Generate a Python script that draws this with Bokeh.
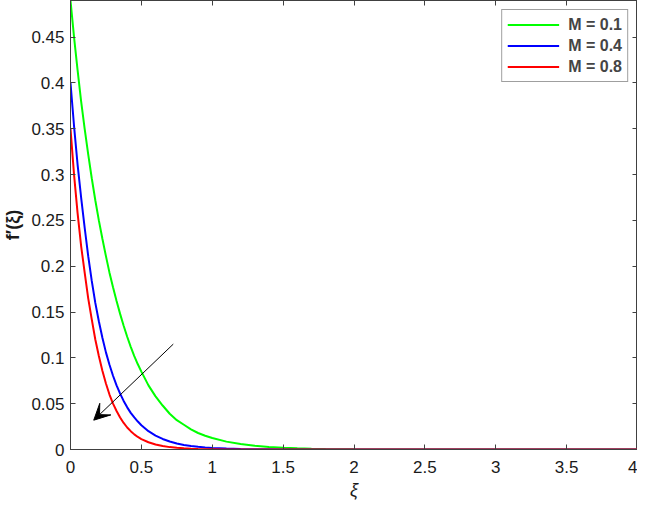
from bokeh.plotting import figure
from bokeh.models import (ColumnDataSource, LinearAxis, FixedTicker, Range1d,
                          Arrow, VeeHead, Legend, LegendItem)
from bokeh.embed import file_html
from bokeh.resources import INLINE

# ---- data ----
xi = [0.0, 0.025, 0.05, 0.075, 0.1, 0.125, 0.15, 0.175, 0.2, 0.225, 0.25, 0.275, 0.3,
      0.325, 0.35, 0.375, 0.4, 0.425, 0.45, 0.475, 0.5,
      0.55, 0.6, 0.65, 0.7, 0.75, 0.8, 0.85, 0.9, 0.95, 1.0,
      1.1, 1.2, 1.3, 1.4, 1.5, 1.6, 1.7, 1.8, 1.9, 2.0,
      2.5, 3.0, 3.5, 4.0]
f_M01 = [0.490, 0.450, 0.414, 0.380, 0.350, 0.322, 0.296, 0.272, 0.250, 0.230, 0.211,
         0.193, 0.177, 0.162, 0.148, 0.135, 0.123, 0.112, 0.102, 0.093, 0.085,
         0.070, 0.058, 0.048, 0.039, 0.032, 0.027, 0.022, 0.018, 0.015, 0.0125,
         0.0086, 0.0060, 0.0041, 0.0028, 0.0019, 0.0013, 0.0009, 0.0006, 0.0004, 0.0003,
         0.00005, 0.0, 0.0, 0.0]
f_M04 = [0.400, 0.353, 0.311, 0.275, 0.242, 0.211, 0.184, 0.160, 0.140, 0.122, 0.106,
         0.0925, 0.0805, 0.070, 0.061, 0.053, 0.046, 0.040, 0.035, 0.0305, 0.0265,
         0.020, 0.0152, 0.0115, 0.0087, 0.0066, 0.0050, 0.0038, 0.0029, 0.0022, 0.0017,
         0.0010, 0.0006, 0.0003, 0.0002, 0.0001, 0.0, 0.0, 0.0, 0.0, 0.0,
         0.0, 0.0, 0.0, 0.0]
f_M08 = [0.350, 0.300, 0.258, 0.222, 0.193, 0.165, 0.142, 0.120, 0.102, 0.086, 0.072,
         0.060, 0.050, 0.042, 0.035, 0.029, 0.024, 0.020, 0.0165, 0.0137, 0.0114,
         0.0079, 0.0055, 0.0038, 0.0026, 0.0018, 0.0013, 0.0009, 0.0006, 0.0004, 0.0003,
         0.0001, 0.0, 0.0, 0.0, 0.0, 0.0, 0.0, 0.0, 0.0, 0.0,
         0.0, 0.0, 0.0, 0.0]
series_labels = ["M = 0.1", "M = 0.4", "M = 0.8"]
series_colors = ["#00ff00", "#0000ff", "#ff0000"]

x_ticks = [0, 0.5, 1, 1.5, 2, 2.5, 3, 3.5, 4]
x_tick_labels = ["0", "0.5", "1", "1.5", "2", "2.5", "3", "3.5", "4"]
y_ticks = [0, 0.05, 0.1, 0.15, 0.2, 0.25, 0.3, 0.35, 0.4, 0.45]
y_tick_labels = ["0", "0.05", "0.1", "0.15", "0.2", "0.25", "0.3", "0.35", "0.4", "0.45"]

# arrow annotation (tail -> tip), data coordinates
arrow_tail = (0.725, 0.115)
arrow_tip = (0.164, 0.032)

FONT = "Liberation Sans"
AX = "#404040"
TXT = "#1a1a1a"

p = figure(width=637, height=502, output_backend="svg",
           toolbar_location=None, x_range=Range1d(0, 4), y_range=Range1d(0, 0.49),
           min_border_left=10, min_border_right=0, min_border_top=0, min_border_bottom=10)
p.xgrid.visible = False
p.ygrid.visible = False
p.background_fill_color = "white"
p.outline_line_color = AX
p.outline_line_width = 1

src = ColumnDataSource(dict(x=xi, a=f_M01, b=f_M04, c=f_M08))
renderers = []
for col, color in zip(["a", "b", "c"], series_colors):
    r = p.line("x", col, source=src, line_color=color, line_width=2)
    renderers.append(r)

def style_axis(ax, ticks, labels, show_labels=True):
    ax.ticker = FixedTicker(ticks=ticks)
    ax.major_label_overrides = {t: (l if show_labels else "") for t, l in zip(ticks, labels)}
    ax.major_tick_in = 5
    ax.major_tick_out = 0
    ax.minor_tick_in = 0
    ax.minor_tick_out = 0
    ax.axis_line_color = AX
    ax.major_tick_line_color = AX
    ax.major_label_text_font = FONT
    ax.major_label_text_font_size = "17px"
    ax.major_label_text_color = TXT

xa = p.xaxis[0]
ya = p.yaxis[0]
style_axis(xa, x_ticks, x_tick_labels)
style_axis(ya, y_ticks, y_tick_labels)
xa.major_label_standoff = 11
ya.major_label_standoff = 6
xa.axis_label = "ξ"
xa.axis_label_text_font = FONT
xa.axis_label_text_font_style = "italic"
xa.axis_label_text_font_size = "18px"
xa.axis_label_standoff = 4
xa.axis_label_text_color = TXT
ya.axis_label = "f′(ξ)"
ya.axis_label_text_font = FONT
ya.axis_label_text_font_style = "bold"
ya.axis_label_text_font_size = "18px"
ya.axis_label_standoff = 5
ya.axis_label_text_color = TXT

top = LinearAxis()
style_axis(top, x_ticks, x_tick_labels, show_labels=False)
top.major_label_text_font_size = "0px"
top.major_label_standoff = 0
p.add_layout(top, "above")
right = LinearAxis()
style_axis(right, y_ticks, y_tick_labels, show_labels=False)
right.major_label_text_font_size = "0px"
right.major_label_standoff = 0
p.add_layout(right, "right")

p.add_layout(Arrow(end=VeeHead(size=16, fill_color="black", line_color="black"),
                   x_start=arrow_tail[0], y_start=arrow_tail[1],
                   x_end=arrow_tip[0], y_end=arrow_tip[1],
                   line_color="black", line_width=1))

legend = Legend(items=[LegendItem(label=l, renderers=[r]) for l, r in zip(series_labels, renderers)],
                location="top_right")
legend.label_text_font = FONT
legend.label_text_font_style = "bold"
legend.label_text_font_size = "16px"
legend.glyph_width = 52
legend.glyph_height = 19
legend.label_height = 19
legend.label_standoff = 9
legend.spacing = 2
legend.padding = 5
legend.margin = 9
legend.border_line_color = AX
legend.border_line_width = 1
legend.background_fill_alpha = 1
p.add_layout(legend)

open("out.html", "w").write(file_html(p, INLINE))
